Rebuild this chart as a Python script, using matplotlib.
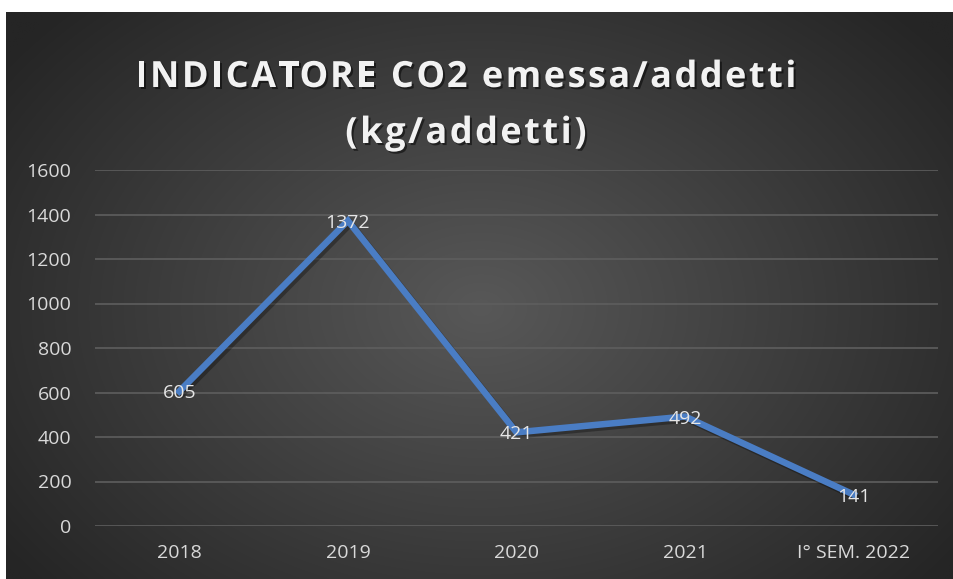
import numpy as np
import matplotlib
matplotlib.use("Agg")
import matplotlib.pyplot as plt
import matplotlib.patheffects as pe

categories = ["2018", "2019", "2020", "2021", "I° SEM. 2022"]
values = [605, 1372, 421, 492, 141]
yticks = [0, 200, 400, 600, 800, 1000, 1200, 1400, 1600]
title_lines = ["INDICATORE CO2 emessa/addetti", "(kg/addetti)"]

W, H = 954, 579
fig = plt.figure(figsize=(W / 100, H / 100), dpi=100)
fig.patch.set_facecolor("white")

# background panel with radial gradient
bx0, by0 = 6 / W, 0
bw, bh = 1 - 6 / W, (H - 12) / H
bg = fig.add_axes([bx0, by0, bw, bh])
ny, nx = 300, 500
yy, xx = np.mgrid[0:ny, 0:nx]
cx, cy = nx * 0.5, ny * 0.52
r = np.sqrt(((xx - cx) / (nx * 0.62)) ** 2 + ((yy - cy) / (ny * 0.75)) ** 2)
r = np.clip(r, 0, 1)
c_in, c_out = 0x58 / 255, 0x25 / 255
img = c_in + (c_out - c_in) * r
rgb = np.dstack([img, img, img])
bg.imshow(rgb, aspect="auto", extent=[0, 1, 0, 1], interpolation="bilinear")
bg.set_axis_off()

ax = fig.add_axes([95 / W, (H - 526) / H, (938 - 95) / W, (526 - 170) / H])
ax.set_facecolor("none")
x = np.arange(len(categories))
ax.plot(x, values, color="#4a7dc4", lw=4.7, solid_joinstyle="miter",
        path_effects=[pe.SimpleLineShadow(offset=(2, -2), shadow_color="black", alpha=0.3),
                      pe.Normal()], zorder=3)
for xi, v in zip(x, values):
    ax.text(xi, v, str(v), ha="center", va="center_baseline", color="#e6e6e6", fontsize=14,
            family="Open Sans", zorder=4)

ax.set_xlim(-0.5, len(categories) - 0.5)
ax.set_ylim(0, 1600)
ax.set_yticks(yticks)
ax.set_xticks(x)
ax.set_xticklabels(categories)
ax.grid(axis="y", color="#5e5e5e", lw=1.2)
ax.set_axisbelow(True)
for s in ax.spines.values():
    s.set_visible(False)
ax.tick_params(length=0, colors="#d9d9d9", labelsize=14)
ax.tick_params(axis="x", pad=13)
ax.tick_params(axis="y", pad=17)
for lab in ax.get_xticklabels() + ax.get_yticklabels():
    lab.set_family("Open Sans")
    lab.set_color("#d9d9d9")

# title with letter spacing
renderer = fig.canvas.get_renderer()
tprops = dict(fontsize=26, fontweight="bold", family="Open Sans")


def text_width(s):
    t = fig.text(0, 0, s, **tprops)
    w = t.get_window_extent(renderer).width
    t.remove()
    return w


bar_w = text_width("|")
tracking = 2.5
shadow = [pe.withSimplePatchShadow(offset=(1.5, -1.5), shadow_rgbFace="black", alpha=0.5)]
for line, (xc, yb) in zip(title_lines, [(466, 87), (466, 143)]):
    total = text_width(line) + tracking * (len(line) - 1)
    x0 = xc - total / 2
    for i, ch in enumerate(line):
        if ch == " ":
            continue
        off = text_width(line[:i] + "|") - bar_w if i > 0 else 0
        fig.text((x0 + off + tracking * i) / W, 1 - yb / H, ch, ha="left", va="baseline",
                 color="#f2f2f2", path_effects=shadow, **tprops)

fig.savefig("out.png", dpi=100, facecolor=fig.get_facecolor())
